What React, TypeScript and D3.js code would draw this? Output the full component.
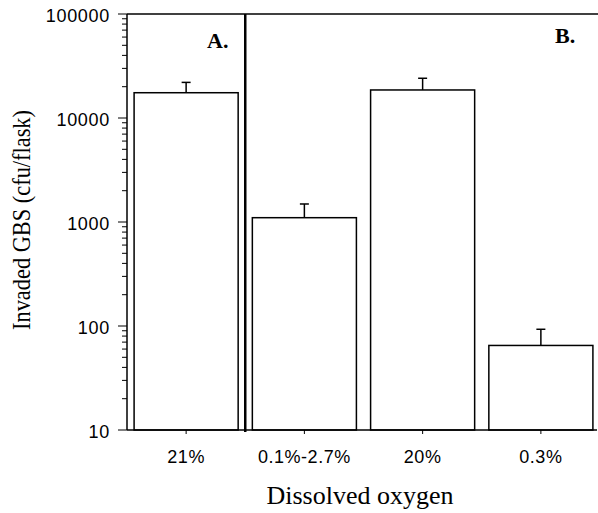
import React from "react";
import * as d3 from "d3";

// Invaded GBS counts by dissolved oxygen (panel A: 21%, panel B: the rest)
const categories = ["21%", "0.1%-2.7%", "20%", "0.3%"];
const means = [17500, 1100, 18600, 65];
const errTops = [22000, 1490, 24100, 93];
const yTicks = [10, 100, 1000, 10000, 100000];

const W = 598;
const H = 513;
const margin = { left: 127, top: 14, right: 0, bottom: 430 };

export default function App() {
  const x = d3
    .scaleBand<string>()
    .domain(categories)
    .range([margin.left, 600])
    .paddingInner(0.12)
    .paddingOuter(0.06);

  const y = d3.scaleLog().domain([10, 100000]).range([margin.bottom, margin.top]);

  // minor ticks 2..9 of each decade
  const minor: number[] = [];
  for (let d = 10; d < 100000; d *= 10) {
    for (let k = 2; k <= 9; k++) minor.push(d * k);
  }

  const divider = (x(categories[1]) as number) - (x.step() * x.paddingInner()) / 2;
  const sans = "'Liberation Sans', Arial, sans-serif";
  const serif = "'Liberation Serif', 'Times New Roman', serif";

  return (
    <svg
      width={W}
      height={H}
      style={{ position: "absolute", left: 0, top: 0, background: "#fff" }}
    >
      {/* bars */}
      <g>
        {categories.map((c, i) => {
          const bx = x(c) as number;
          const cx = bx + x.bandwidth() / 2;
          return (
            <g key={c}>
              <line x1={cx} x2={cx} y1={y(means[i])} y2={y(errTops[i])} stroke="#000" strokeWidth={1.5} />
              <line x1={cx - 4.5} x2={cx + 4.5} y1={y(errTops[i])} y2={y(errTops[i])} stroke="#000" strokeWidth={1.5} />
              <rect
                x={bx}
                y={y(means[i])}
                width={x.bandwidth()}
                height={y(10) - y(means[i])}
                fill="#fff"
                stroke="#000"
                strokeWidth={1.5}
              />
            </g>
          );
        })}
      </g>

      {/* frame: y axis, top line, x axis */}
      <line x1={margin.left} x2={margin.left} y1={margin.top} y2={margin.bottom} stroke="#000" strokeWidth={1.5} />
      <line x1={margin.left} x2={W} y1={margin.top} y2={margin.top} stroke="#000" strokeWidth={1.5} />
      <line x1={margin.left} x2={W - 1} y1={margin.bottom} y2={margin.bottom} stroke="#000" strokeWidth={1.5} />
      <line x1={divider} x2={divider} y1={margin.top} y2={margin.bottom + 2} stroke="#000" strokeWidth={2.5} />

      {/* y ticks */}
      <g>
        {yTicks.map((t) => (
          <g key={t} transform={`translate(0,${y(t)})`}>
            <line x1={118} x2={margin.left} stroke="#000" strokeWidth={1} />
            <text x={110} dy="0.42em" textAnchor="end" fontFamily={sans} fontSize={18} letterSpacing={0.7}>
              {t}
            </text>
          </g>
        ))}
        {minor.map((t) => (
          <line key={t} x1={122} x2={margin.left} y1={y(t)} y2={y(t)} stroke="#000" strokeWidth={1} />
        ))}
      </g>

      {/* x ticks */}
      <g>
        {categories.map((c) => {
          const cx = (x(c) as number) + x.bandwidth() / 2;
          return (
            <g key={c} transform={`translate(${cx},${margin.bottom})`}>
              <line y1={0} y2={4} stroke="#000" strokeWidth={1} />
              <text y={33} textAnchor="middle" fontFamily={sans} fontSize={18} letterSpacing={0.5}>
                {c}
              </text>
            </g>
          );
        })}
      </g>

      {/* panel letters */}
      <text x={207} y={48} fontFamily={serif} fontWeight="bold" fontSize={22}>A.</text>
      <text x={555} y={43} fontFamily={serif} fontWeight="bold" fontSize={22}>B.</text>

      {/* axis titles */}
      <text
        transform="rotate(-90)"
        x={-220}
        y={30}
        textAnchor="middle"
        fontFamily={serif}
        fontSize={26}
        textLength={220}
        lengthAdjust="spacingAndGlyphs"
      >
        Invaded GBS (cfu/flask)
      </text>
      <text
        x={360}
        y={504}
        textAnchor="middle"
        fontFamily={serif}
        fontSize={25}
        textLength={187}
        lengthAdjust="spacingAndGlyphs"
      >
        Dissolved oxygen
      </text>
    </svg>
  );
}
